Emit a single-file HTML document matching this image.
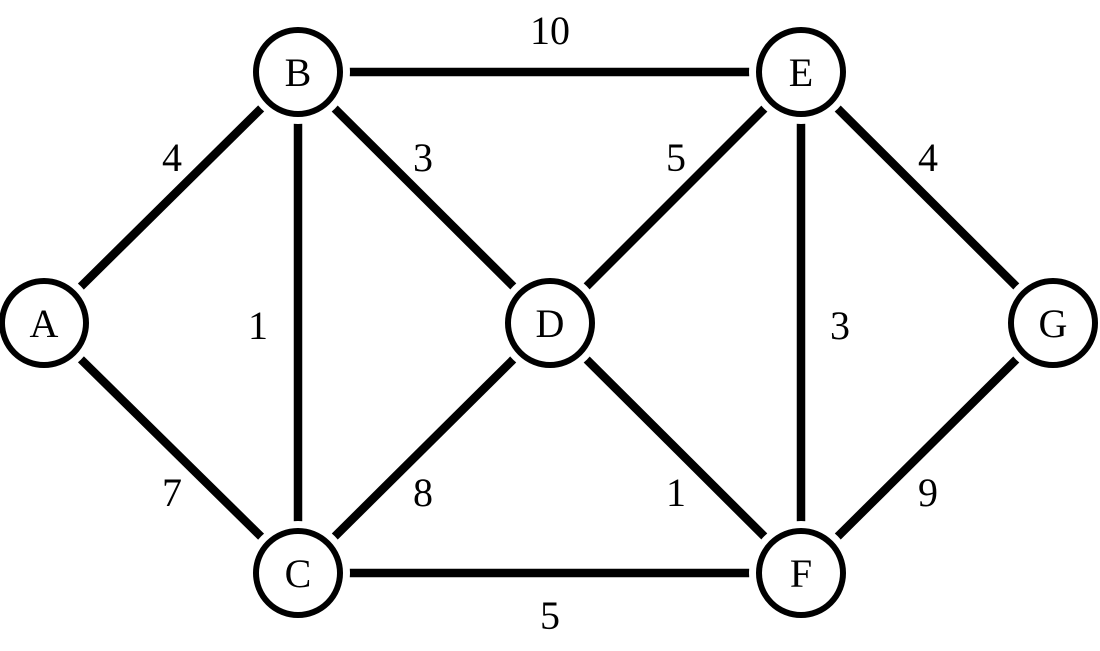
<!DOCTYPE html>
<html><head><meta charset="utf-8"><style>html,body{margin:0;padding:0;background:#fff}</style></head>
<body>
<svg width="1100" height="646" viewBox="0 0 1100 646" xmlns="http://www.w3.org/2000/svg">
<g stroke="#000" stroke-width="8.5" stroke-linecap="butt">
<line x1="44" y1="323" x2="298" y2="72"/>
<line x1="44" y1="323" x2="298" y2="573"/>
<line x1="298" y1="72" x2="801" y2="72"/>
<line x1="298" y1="72" x2="298" y2="573"/>
<line x1="298" y1="72" x2="550" y2="323"/>
<line x1="298" y1="573" x2="550" y2="323"/>
<line x1="298" y1="573" x2="801" y2="573"/>
<line x1="550" y1="323" x2="801" y2="72"/>
<line x1="550" y1="323" x2="801" y2="573"/>
<line x1="801" y1="72" x2="801" y2="573"/>
<line x1="801" y1="72" x2="1053" y2="323"/>
<line x1="801" y1="573" x2="1053" y2="323"/>
</g>
<g fill="#fff">
<circle cx="44" cy="323" r="52"/>
<circle cx="298" cy="72" r="52"/>
<circle cx="298" cy="573" r="52"/>
<circle cx="550" cy="323" r="52"/>
<circle cx="801" cy="72" r="52"/>
<circle cx="801" cy="573" r="52"/>
<circle cx="1053" cy="323" r="52"/>
</g>
<g fill="#fff" stroke="#000" stroke-width="6">
<circle cx="44" cy="323" r="42"/>
<circle cx="298" cy="72" r="42"/>
<circle cx="298" cy="573" r="42"/>
<circle cx="550" cy="323" r="42"/>
<circle cx="801" cy="72" r="42"/>
<circle cx="801" cy="573" r="42"/>
<circle cx="1053" cy="323" r="42"/>
</g>
<g font-family="Liberation Serif, serif" font-size="40" text-anchor="middle" fill="#000">
<text x="44" y="337">A</text>
<text x="298" y="86">B</text>
<text x="298" y="587">C</text>
<text x="550" y="337">D</text>
<text x="801" y="86">E</text>
<text x="801" y="587">F</text>
<text x="1053" y="337">G</text>
<text x="550" y="44">10</text>
<text x="172" y="171">4</text>
<text x="423" y="171">3</text>
<text x="676" y="171">5</text>
<text x="928" y="171">4</text>
<text x="258" y="339">1</text>
<text x="840" y="339">3</text>
<text x="172" y="506">7</text>
<text x="423" y="506">8</text>
<text x="676" y="506">1</text>
<text x="928" y="506">9</text>
<text x="550" y="629">5</text>
</g>
</svg>
</body></html>
